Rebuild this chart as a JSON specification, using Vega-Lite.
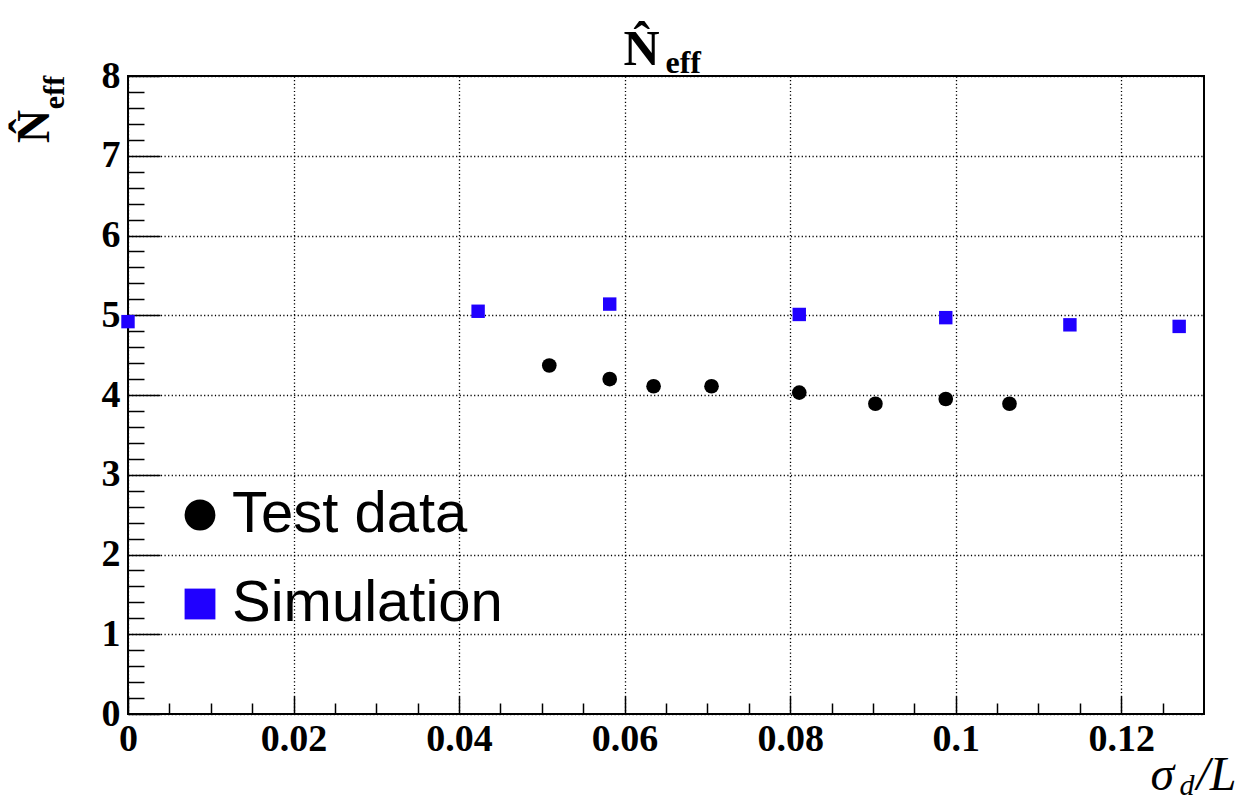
{
  "$schema": "https://vega.github.io/schema/vega-lite/v6.json",
  "width": 1076,
  "height": 638,
  "autosize": {"type": "none"},
  "padding": {"left": 128, "top": 76, "right": 41, "bottom": 87},
  "background": "white",
  "data": {
    "values": [
      {"series": "Test data", "x": 0.0509, "y": 4.37},
      {"series": "Test data", "x": 0.0582, "y": 4.2},
      {"series": "Test data", "x": 0.0635, "y": 4.11},
      {"series": "Test data", "x": 0.0705, "y": 4.11},
      {"series": "Test data", "x": 0.0811, "y": 4.03},
      {"series": "Test data", "x": 0.0903, "y": 3.89},
      {"series": "Test data", "x": 0.0988, "y": 3.95},
      {"series": "Test data", "x": 0.1065, "y": 3.89},
      {"series": "Simulation", "x": 0.0, "y": 4.92},
      {"series": "Simulation", "x": 0.0423, "y": 5.05},
      {"series": "Simulation", "x": 0.0582, "y": 5.14},
      {"series": "Simulation", "x": 0.0811, "y": 5.01},
      {"series": "Simulation", "x": 0.0988, "y": 4.97},
      {"series": "Simulation", "x": 0.1138, "y": 4.88},
      {"series": "Simulation", "x": 0.127, "y": 4.86}
    ]
  },
  "resolve": {"axis": {"x": "independent", "y": "independent"}},
  "layer": [
    {
      "transform": [{"filter": "datum.series == 'Test data'"}],
      "mark": {"type": "point", "filled": true, "size": 215, "opacity": 1, "strokeWidth": 0},
      "encoding": {
        "x": {
          "field": "x", "type": "quantitative",
          "scale": {"domain": [0, 0.13], "nice": false, "zero": false},
          "axis": {
            "orient": "bottom",
            "values": [0, 0.02, 0.04, 0.06, 0.08, 0.1, 0.12],
            "format": "~g",
            "grid": true,
            "tickSize": -18,
            "labelPadding": 24,
            "labelBaseline": "top",
            "labelAlign": "center",
            "title": "σ",
            "titleFontStyle": "italic",
            "titleFontWeight": "normal",
            "titleFontSize": 48,
            "titleX": 1022,
            "titleY": 75,
            "titleAlign": "left",
            "titleBaseline": "alphabetic",
            "titleAngle": 0
          }
        },
        "y": {
          "field": "y", "type": "quantitative",
          "scale": {"domain": [0, 8], "nice": false, "zero": false},
          "axis": {
            "orient": "left",
            "values": [0, 1, 2, 3, 4, 5, 6, 7, 8],
            "grid": true,
            "tickSize": -32,
            "labelPadding": 40,
            "labelAlign": "right",
            "labelBaseline": "middle",
            "title": "N̂",
            "titleFontWeight": "bold",
            "titleFontSize": 46,
            "titleAngle": 270,
            "titleX": -80,
            "titleY": 50,
            "titleAlign": "center",
            "titleBaseline": "alphabetic"
          }
        },
        "color": {
          "field": "series", "type": "nominal",
          "scale": {"domain": ["Test data", "Simulation"], "range": ["#000000", "#2000ff"]},
          "legend": {
            "title": null,
            "orient": "none",
            "legendX": 43,
            "legendY": 410,
            "symbolSize": 950,
            "labelFont": "Liberation Sans",
            "labelFontWeight": "normal",
            "labelFontSize": 58,
            "labelColor": "black",
            "rowPadding": 31,
            "labelOffset": 3,
            "padding": 0,
            "symbolStrokeWidth": 0,
            "symbolOpacity": 1,
            "labelLimit": 0
          }
        },
        "shape": {
          "field": "series", "type": "nominal",
          "scale": {"domain": ["Test data", "Simulation"], "range": ["circle", "square"]}
        }
      }
    },
    {
      "transform": [{"filter": "datum.series == 'Simulation'"}],
      "mark": {"type": "point", "filled": true, "size": 180, "opacity": 1, "strokeWidth": 0},
      "encoding": {
        "x": {
          "field": "x", "type": "quantitative",
          "axis": {
            "orient": "bottom",
            "values": [0.005, 0.01, 0.015, 0.025, 0.03, 0.035, 0.045, 0.05, 0.055, 0.065, 0.07, 0.075, 0.085, 0.09, 0.095, 0.105, 0.11, 0.115, 0.125],
            "labels": false,
            "grid": false,
            "tickSize": -11,
            "title": "d",
            "titleFontStyle": "italic",
            "titleFontWeight": "normal",
            "titleFontSize": 30,
            "titleX": 1051,
            "titleY": 80,
            "titleAlign": "left",
            "titleBaseline": "alphabetic",
            "titleAngle": 0
          }
        },
        "y": {
          "field": "y", "type": "quantitative",
          "axis": {
            "orient": "left",
            "values": [0.2, 0.4, 0.6, 0.8, 1.2, 1.4, 1.6, 1.8, 2.2, 2.4, 2.6, 2.8, 3.2, 3.4, 3.6, 3.8, 4.2, 4.4, 4.6, 4.8, 5.2, 5.4, 5.6, 5.8, 6.2, 6.4, 6.6, 6.8, 7.2, 7.4, 7.6, 7.8],
            "labels": false,
            "grid": false,
            "tickSize": -16,
            "title": "eff",
            "titleFontWeight": "bold",
            "titleFontSize": 30,
            "titleAngle": 270,
            "titleX": -65,
            "titleY": 16,
            "titleAlign": "center",
            "titleBaseline": "alphabetic"
          }
        },
        "color": {"field": "series", "type": "nominal"},
        "shape": {"field": "series", "type": "nominal"}
      }
    },
    {
      "transform": [{"filter": "false"}],
      "mark": {"type": "point"},
      "encoding": {
        "x": {
          "field": "x", "type": "quantitative",
          "axis": {
            "orient": "bottom", "labels": false, "ticks": false, "grid": false,
            "title": "/L",
            "titleFontStyle": "italic",
            "titleFontWeight": "normal",
            "titleFontSize": 48,
            "titleX": 1068,
            "titleY": 75,
            "titleAlign": "left",
            "titleBaseline": "alphabetic",
            "titleAngle": 0
          }
        }
      }
    },
    {
      "transform": [{"filter": "false"}],
      "mark": {"type": "point"},
      "encoding": {
        "x": {
          "field": "x", "type": "quantitative",
          "axis": {
            "orient": "top", "labels": false, "ticks": false, "grid": false,
            "title": "N̂",
            "titleFontWeight": "bold",
            "titleFontSize": 50,
            "titleX": 513,
            "titleY": -12,
            "titleAlign": "center",
            "titleBaseline": "alphabetic",
            "titleAngle": 0
          }
        }
      }
    },
    {
      "transform": [{"filter": "false"}],
      "mark": {"type": "point"},
      "encoding": {
        "x": {
          "field": "x", "type": "quantitative",
          "axis": {
            "orient": "top", "labels": false, "ticks": false, "grid": false,
            "title": "eff",
            "titleFontWeight": "bold",
            "titleFontSize": 32,
            "titleX": 537,
            "titleY": -4,
            "titleAlign": "left",
            "titleBaseline": "alphabetic",
            "titleAngle": 0
          }
        }
      }
    }
  ],
  "config": {
    "view": {"stroke": "black", "strokeWidth": 2},
    "axis": {
      "domain": false,
      "tickColor": "black",
      "tickWidth": 1.5,
      "labelColor": "black",
      "labelFont": "Liberation Serif",
      "labelFontWeight": "bold",
      "labelFontSize": 38,
      "labelFlush": false,
      "labelOverlap": false,
      "labelBound": false,
      "titleColor": "black",
      "titleFont": "Liberation Serif",
      "gridColor": "black",
      "gridDash": [1.2, 2.4],
      "gridWidth": 1.3,
      "gridOpacity": 1
    },
    "legend": {"symbolStrokeWidth": 0}
  }
}
